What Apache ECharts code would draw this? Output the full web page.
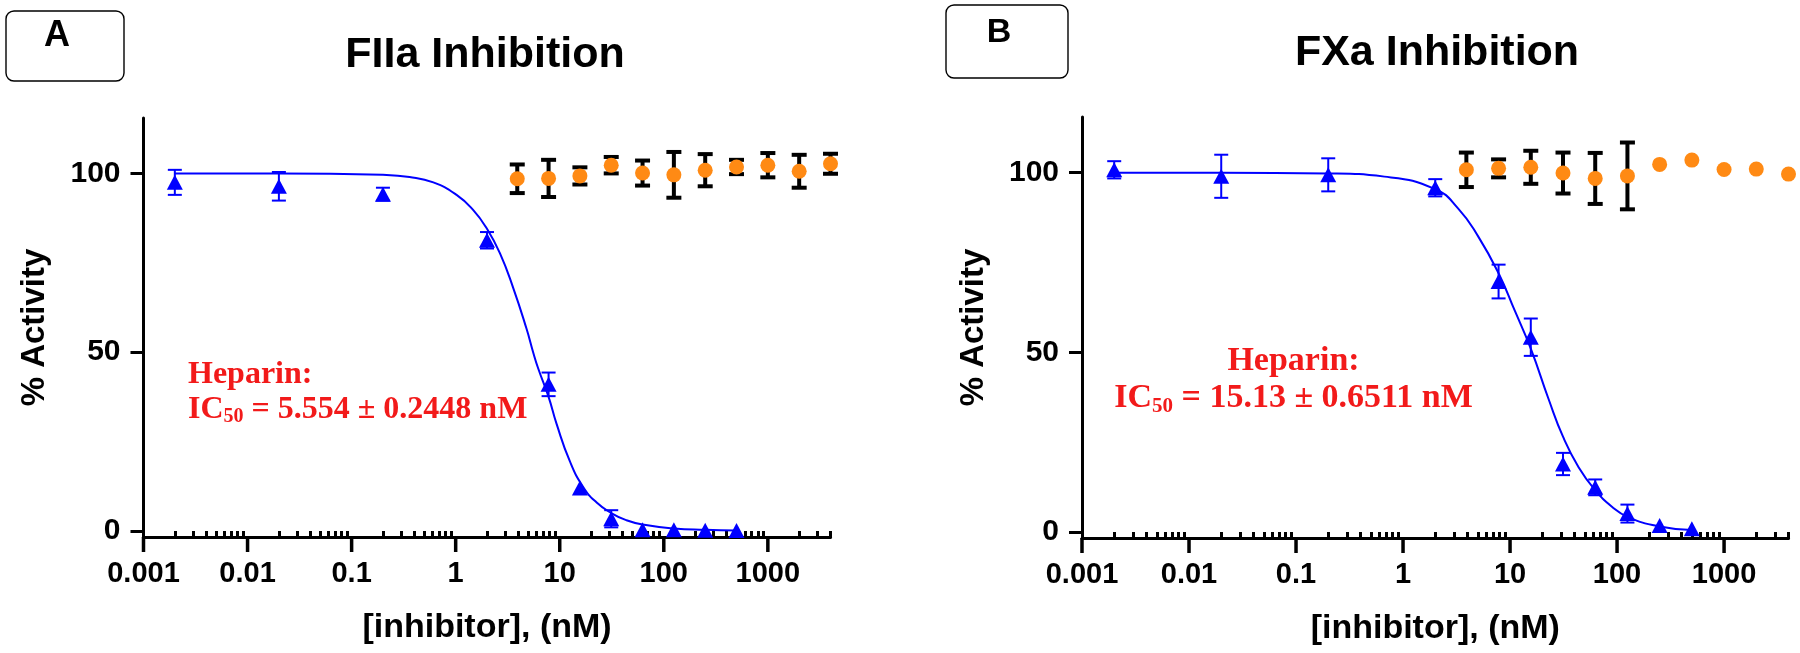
<!DOCTYPE html>
<html>
<head>
<meta charset="utf-8">
<script src="https://cdn.jsdelivr.net/npm/echarts@6/dist/echarts.min.js"></script>
<style>
html,body{margin:0;padding:0;background:#fff;}
#chart{width:1800px;height:653px;}
</style>
</head>
<body>
<div id="chart"></div>
<script>
const xTickValues = [0.001, 0.01, 0.1, 1, 10, 100, 1000];
const xTickLabels = ['0.001', '0.01', '0.1', '1', '10', '100', '1000'];
const yTickValues = [0, 50, 100];
const xMin = 0.001, xMax = 4000;
const yMin = -1.7, yMax = 115.5;

const concA_heparin = [0.002, 0.02, 0.2, 2, 7.8125, 15.625, 31.25, 62.5, 125, 250, 500];
const actA_heparin  = [97.5, 96.4, 94.2, 81.3, 41.0, 12.0, 3.4, 0.3, 0.3, 0.2, 0.1];
const errA_heparin  = [3.5, 4.0, 1.8, 2.3, 3.3, null, 2.4, null, null, null, null];
const concA_ctrl = [3.90625, 7.8125, 15.625, 31.25, 62.5, 125, 250, 500, 1000, 2000, 4000];
const actA_ctrl  = [98.5, 98.6, 99.3, 102.3, 100.1, 99.6, 100.9, 101.8, 102.3, 100.6, 102.7];
const errA_ctrl  = [4.0, 5.2, 2.4, 2.3, 3.5, 6.4, 4.5, 2.0, 3.4, 4.6, 2.8];
const curveA_x = [0.002, 0.02, 0.2, 0.36, 0.61, 1.02, 1.47, 2, 2.66, 3.57, 4.79, 5.55, 6.2, 7.8125, 9.31, 12.5, 16.8, 22.5, 31.25, 43.8, 62.5, 125, 250, 500];
const curveA_y = [100, 100, 99.6, 99.0, 97.5, 94.0, 89.8, 84.5, 77.7, 68.0, 56.6, 50.0, 45.5, 37.5, 30.0, 19.5, 12.3, 8.0, 5.0, 3.0, 1.8, 0.7, 0.3, 0.1];

const concB_heparin = [0.002, 0.02, 0.2, 2, 7.8125, 15.625, 31.25, 62.5, 125, 250, 500];
const actB_heparin  = [100.8, 99.0, 99.4, 95.8, 69.7, 54.2, 18.9, 12.4, 5.1, 1.8, 0.9];
const errB_heparin  = [2.4, 6.0, 4.6, 2.4, 4.7, 5.2, 3.1, 2.2, 2.5, null, null];
const concB_ctrl = [3.90625, 7.8125, 15.625, 31.25, 62.5, 125, 250, 500, 1000, 2000, 4000];
const actB_ctrl  = [100.8, 101.2, 101.5, 99.9, 98.4, 99.1, 102.3, 103.5, 100.9, 101.0, 99.6];
const errB_ctrl  = [4.8, 2.5, 4.6, 5.7, 7.1, 9.3, null, null, null, null, null];
const curveB_x = [0.002, 0.02, 0.2, 0.67, 2, 3.28, 5.05, 7.8125, 11.1, 15.625, 22.9, 31.25, 43.7, 62.5, 89.6, 125, 250, 500];
const curveB_y = [100, 100, 99.8, 98.9, 95.4, 90.0, 82.2, 72.0, 61.5, 51.0, 37.0, 26.5, 18.0, 11.6, 7.0, 4.2, 1.5, 0.5];

const minorTicks = [];
for (let e = -3; e <= 3; e++) {
  for (let m = 2; m <= 9; m++) {
    const v = +(m * Math.pow(10, e)).toPrecision(6);
    if (v <= xMax) minorTicks.push(v);
  }
}
const SANS = "'Liberation Sans', Arial, sans-serif";
const SERIF = "'Liberation Serif', 'Times New Roman', serif";
const BLUE = '#0000ff';
const ORANGE = '#ff8a14';
const RED = '#f21a1a';

function xLabelFmt(v) {
  const i = xTickValues.findIndex(t => Math.abs(Math.log10(t) - Math.log10(v)) < 1e-6);
  return i >= 0 ? xTickLabels[i] : '';
}
function pairs(xs, ys) { return xs.map((x, i) => [x, ys[i]]); }
function errData(xs, ys, es) {
  return xs.map((x, i) => [x, ys[i], es[i]]).filter(d => d[2] != null && d[2] > 0);
}
function errRender(color, lw, capW) {
  return function (params, api) {
    const x = api.value(0), y = api.value(1), e = api.value(2);
    const top = api.coord([x, y + e]);
    const bot = api.coord([x, y - e]);
    const h = capW / 2;
    const st = { stroke: color, lineWidth: lw };
    return {
      type: 'group',
      children: [
        { type: 'line', shape: { x1: top[0], y1: top[1], x2: bot[0], y2: bot[1] }, style: st },
        { type: 'line', shape: { x1: top[0] - h, y1: top[1], x2: top[0] + h, y2: top[1] }, style: st },
        { type: 'line', shape: { x1: bot[0] - h, y1: bot[1], x2: bot[0] + h, y2: bot[1] }, style: st }
      ]
    };
  };
}

function mainX(gi) {
  return {
    gridIndex: gi, type: 'log', logBase: 10, min: xMin, max: xMax, position: 'bottom',
    axisLine: { show: true, onZero: false, lineStyle: { color: '#000', width: 3 } },
    axisTick: { show: false },
    minorTick: { show: false },
    axisLabel: { show: true, customValues: xTickValues, formatter: xLabelFmt, margin: 22,
      fontSize: 29, fontWeight: 'bold', color: '#000', fontFamily: SANS },
    splitLine: { show: false },
    name: '[inhibitor], (nM)', nameLocation: 'middle', nameGap: 74,
    nameTextStyle: { fontSize: 34, fontWeight: 'bold', color: '#000', fontFamily: SANS }
  };
}
function minorX(gi) {
  return {
    gridIndex: gi, type: 'log', logBase: 10, min: xMin, max: xMax, position: 'bottom', offset: 0,
    axisLine: { show: false },
    axisTick: { show: true, customValues: minorTicks, length: 7, inside: false, lineStyle: { color: '#000', width: 3 } },
    axisLabel: { show: false },
    splitLine: { show: false }
  };
}
function mainY(gi) {
  return {
    gridIndex: gi, type: 'value', min: yMin, max: yMax, position: 'left',
    axisLine: { show: true, onZero: false, lineStyle: { color: '#000', width: 3 } },
    axisTick: { show: true, customValues: yTickValues, length: 13, lineStyle: { color: '#000', width: 3 } },
    axisLabel: { show: true, customValues: yTickValues, margin: 23,
      fontSize: 30, fontWeight: 'bold', color: '#000', fontFamily: SANS },
    splitLine: { show: false },
    name: '% Activity', nameLocation: 'middle', nameGap: 92, nameRotate: 90,
    nameTextStyle: { fontSize: 33, fontWeight: 'bold', color: '#000', fontFamily: SANS }
  };
}

function panelSeries(gi, cx, cy, hx, hy, he, ox, oy, oe) {
  const xi = gi * 2, yi = gi;
  return [
    // decade (major) ticks hanging below the x axis, placed by the log scale
    { type: 'scatter', xAxisIndex: xi, yAxisIndex: yi, data: xTickValues.map(v => [v, yMin]),
      symbol: 'rect', symbolSize: [3.5, 15], symbolOffset: [0, 7.5],
      itemStyle: { color: '#000', opacity: 1 }, z: 30, clip: false, silent: true },
    { type: 'line', xAxisIndex: xi, yAxisIndex: yi, data: pairs(cx, cy), smooth: 0.5,
      symbol: 'none', lineStyle: { color: BLUE, width: 2 }, z: 2, clip: false, silent: true },
    { type: 'custom', xAxisIndex: xi, yAxisIndex: yi, data: errData(hx, hy, he),
      encode: { x: 0, y: 1 }, renderItem: errRender(BLUE, 2, 14), z: 3, clip: false, silent: true },
    { type: 'scatter', xAxisIndex: xi, yAxisIndex: yi, data: pairs(hx, hy), symbol: 'triangle',
      symbolSize: [16, 15], itemStyle: { color: BLUE, opacity: 1 }, z: 4, clip: false, silent: true },
    { type: 'custom', xAxisIndex: xi, yAxisIndex: yi, data: errData(ox, oy, oe),
      encode: { x: 0, y: 1 }, renderItem: errRender('#000', 4, 15), z: 5, clip: false, silent: true },
    { type: 'scatter', xAxisIndex: xi, yAxisIndex: yi, data: pairs(ox, oy), symbol: 'circle',
      symbolSize: 15, itemStyle: { color: ORANGE, opacity: 1 }, z: 6, clip: false, silent: true }
  ];
}

function annotation(x, y, align, value, fs, lh, ss) {
  return { type: 'text', x: x, y: y, z: 10, style: {
    text: '{t|Heparin:}\n{t|IC}{s|50}{t| = ' + value + '}', align: align, verticalAlign: 'top', fill: RED,
    rich: {
      t: { fontSize: fs, fontWeight: 'bold', fontFamily: SERIF, fill: RED, lineHeight: lh },
      s: { fontSize: ss, fontWeight: 'bold', fontFamily: SERIF, fill: RED, lineHeight: ss + 2, verticalAlign: 'bottom' }
    } } };
}

const staticGraphics = [
  { type: 'rect', shape: { x: 6, y: 11, width: 118, height: 70, r: 8 },
    style: { fill: 'none', stroke: '#000', lineWidth: 1.4 }, z: 10 },
  { type: 'text', x: 57, y: 36, style: { text: 'A', fill: '#000', font: "bold 36px " + SANS, align: 'center', verticalAlign: 'middle' }, z: 10 },
  { type: 'rect', shape: { x: 946, y: 5, width: 122, height: 73, r: 8 },
    style: { fill: 'none', stroke: '#000', lineWidth: 1.4 }, z: 10 },
  { type: 'text', x: 999, y: 33, style: { text: 'B', fill: '#000', font: "bold 34px " + SANS, align: 'center', verticalAlign: 'middle' }, z: 10 },
  { type: 'text', x: 485, y: 55, style: { text: 'FIIa Inhibition', fill: '#000', font: "bold 43px " + SANS, align: 'center', verticalAlign: 'middle' }, z: 10 },
  { type: 'text', x: 1437, y: 53, style: { text: 'FXa Inhibition', fill: '#000', font: "bold 43px " + SANS, align: 'center', verticalAlign: 'middle' }, z: 10 },
  annotation(188, 357, 'left', '5.554 ± 0.2448 nM', 32, 35, 20),
  annotation(1293.5, 343, 'center', '15.13 ± 0.6511 nM', 34, 37, 21)
];

const chart = echarts.init(document.getElementById('chart'), null, { renderer: 'canvas' });
chart.setOption({
  backgroundColor: '#fff',
  animation: false,
  grid: [
    { left: 143.5, top: 118, width: 687, height: 419, outerBoundsMode: 'none', containLabel: false },
    { left: 1082, top: 117, width: 706.5, height: 421, outerBoundsMode: 'none', containLabel: false }
  ],
  xAxis: [mainX(0), minorX(0), mainX(1), minorX(1)],
  yAxis: [mainY(0), mainY(1)],
  series: [].concat(
    panelSeries(0, curveA_x, curveA_y, concA_heparin, actA_heparin, errA_heparin, concA_ctrl, actA_ctrl, errA_ctrl),
    panelSeries(1, curveB_x, curveB_y, concB_heparin, actB_heparin, errB_heparin, concB_ctrl, actB_ctrl, errB_ctrl)
  ),
  graphic: staticGraphics
});
</script>
</body>
</html>
